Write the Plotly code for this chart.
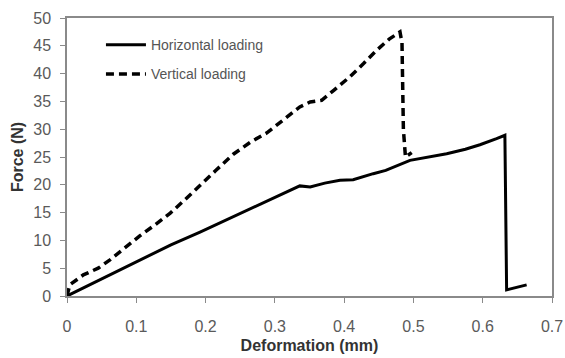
import plotly.graph_objects as go

# Horizontal loading (solid)
h_x = [0.0, 0.05, 0.10, 0.15, 0.192, 0.25, 0.30, 0.336, 0.351, 0.372, 0.394, 0.413, 0.442, 0.46, 0.495, 0.548, 0.575, 0.596, 0.62, 0.632, 0.6345, 0.6634]
h_y = [0.0, 3.1, 6.2, 9.2, 11.5, 14.9, 17.8, 19.8, 19.6, 20.3, 20.8, 20.9, 22.0, 22.6, 24.4, 25.6, 26.4, 27.2, 28.3, 28.9, 1.1, 2.0]

# Vertical loading (dashed)
v_x = [0.0, 0.004, 0.0236, 0.045, 0.062, 0.085, 0.105, 0.127, 0.149, 0.17, 0.192, 0.215, 0.240, 0.265, 0.288, 0.31, 0.336, 0.351, 0.3675, 0.385, 0.408, 0.428, 0.447, 0.465, 0.4806, 0.4835, 0.4855, 0.4885, 0.4975]
v_y = [0.0, 2.0, 3.8, 5.0, 6.5, 8.8, 10.8, 12.8, 14.9, 17.3, 19.8, 22.6, 25.5, 27.7, 29.3, 31.4, 34.0, 34.9, 35.2, 37.0, 39.4, 41.8, 44.2, 46.2, 47.5, 45.5, 30.0, 25.0, 25.8]

x_ticks = [0, 0.1, 0.2, 0.3, 0.4, 0.5, 0.6, 0.7]
y_ticks = [0, 5, 10, 15, 20, 25, 30, 35, 40, 45, 50]

FONT = "Liberation Sans, Arial"

fig = go.Figure()
fig.add_trace(go.Scatter(x=h_x, y=h_y, mode="lines", name="Horizontal loading",
                         legendgroup="h",
                         line=dict(color="black", width=3)))
fig.add_trace(go.Scatter(x=v_x, y=v_y, mode="lines", name="Vertical loading",
                         legendgroup="v",
                         line=dict(color="black", width=3.5, dash="8px,5px")))

axis_common = dict(showgrid=False, zeroline=False, showline=True, linecolor="#8a8a8a",
                   linewidth=1.5, mirror=True, ticks="outside", ticklen=5,
                   tickcolor="#8a8a8a", automargin=False,
                   tickfont=dict(family=FONT, size=16, color="#5a5a5a"))

fig.update_xaxes(range=[0, 0.7], tickvals=x_ticks, ticktext=[str(t) for t in x_ticks],
                 ticklabelstandoff=10,
                 title=dict(text="<b>Deformation (mm)</b>", standoff=6,
                            font=dict(family=FONT, size=16, color="#333333")),
                 **axis_common)
fig.update_yaxes(range=[0, 50], tickvals=y_ticks,
                 ticklabelstandoff=6,
                 title=dict(text="<b>Force (N)</b>", standoff=6,
                            font=dict(family=FONT, size=16, color="#333333")),
                 **axis_common)

fig.update_layout(
    width=565, height=358,
    margin=dict(l=67, r=13, t=18, b=62),
    paper_bgcolor="white", plot_bgcolor="white",
    legend=dict(x=0.07, y=0.96, xanchor="left", yanchor="top",
                bgcolor="rgba(0,0,0,0)", borderwidth=0,
                tracegroupgap=8, itemwidth=40,
                font=dict(family=FONT, size=14, color="#555555")),
    showlegend=True,
)

fig.write_html("out.html")
